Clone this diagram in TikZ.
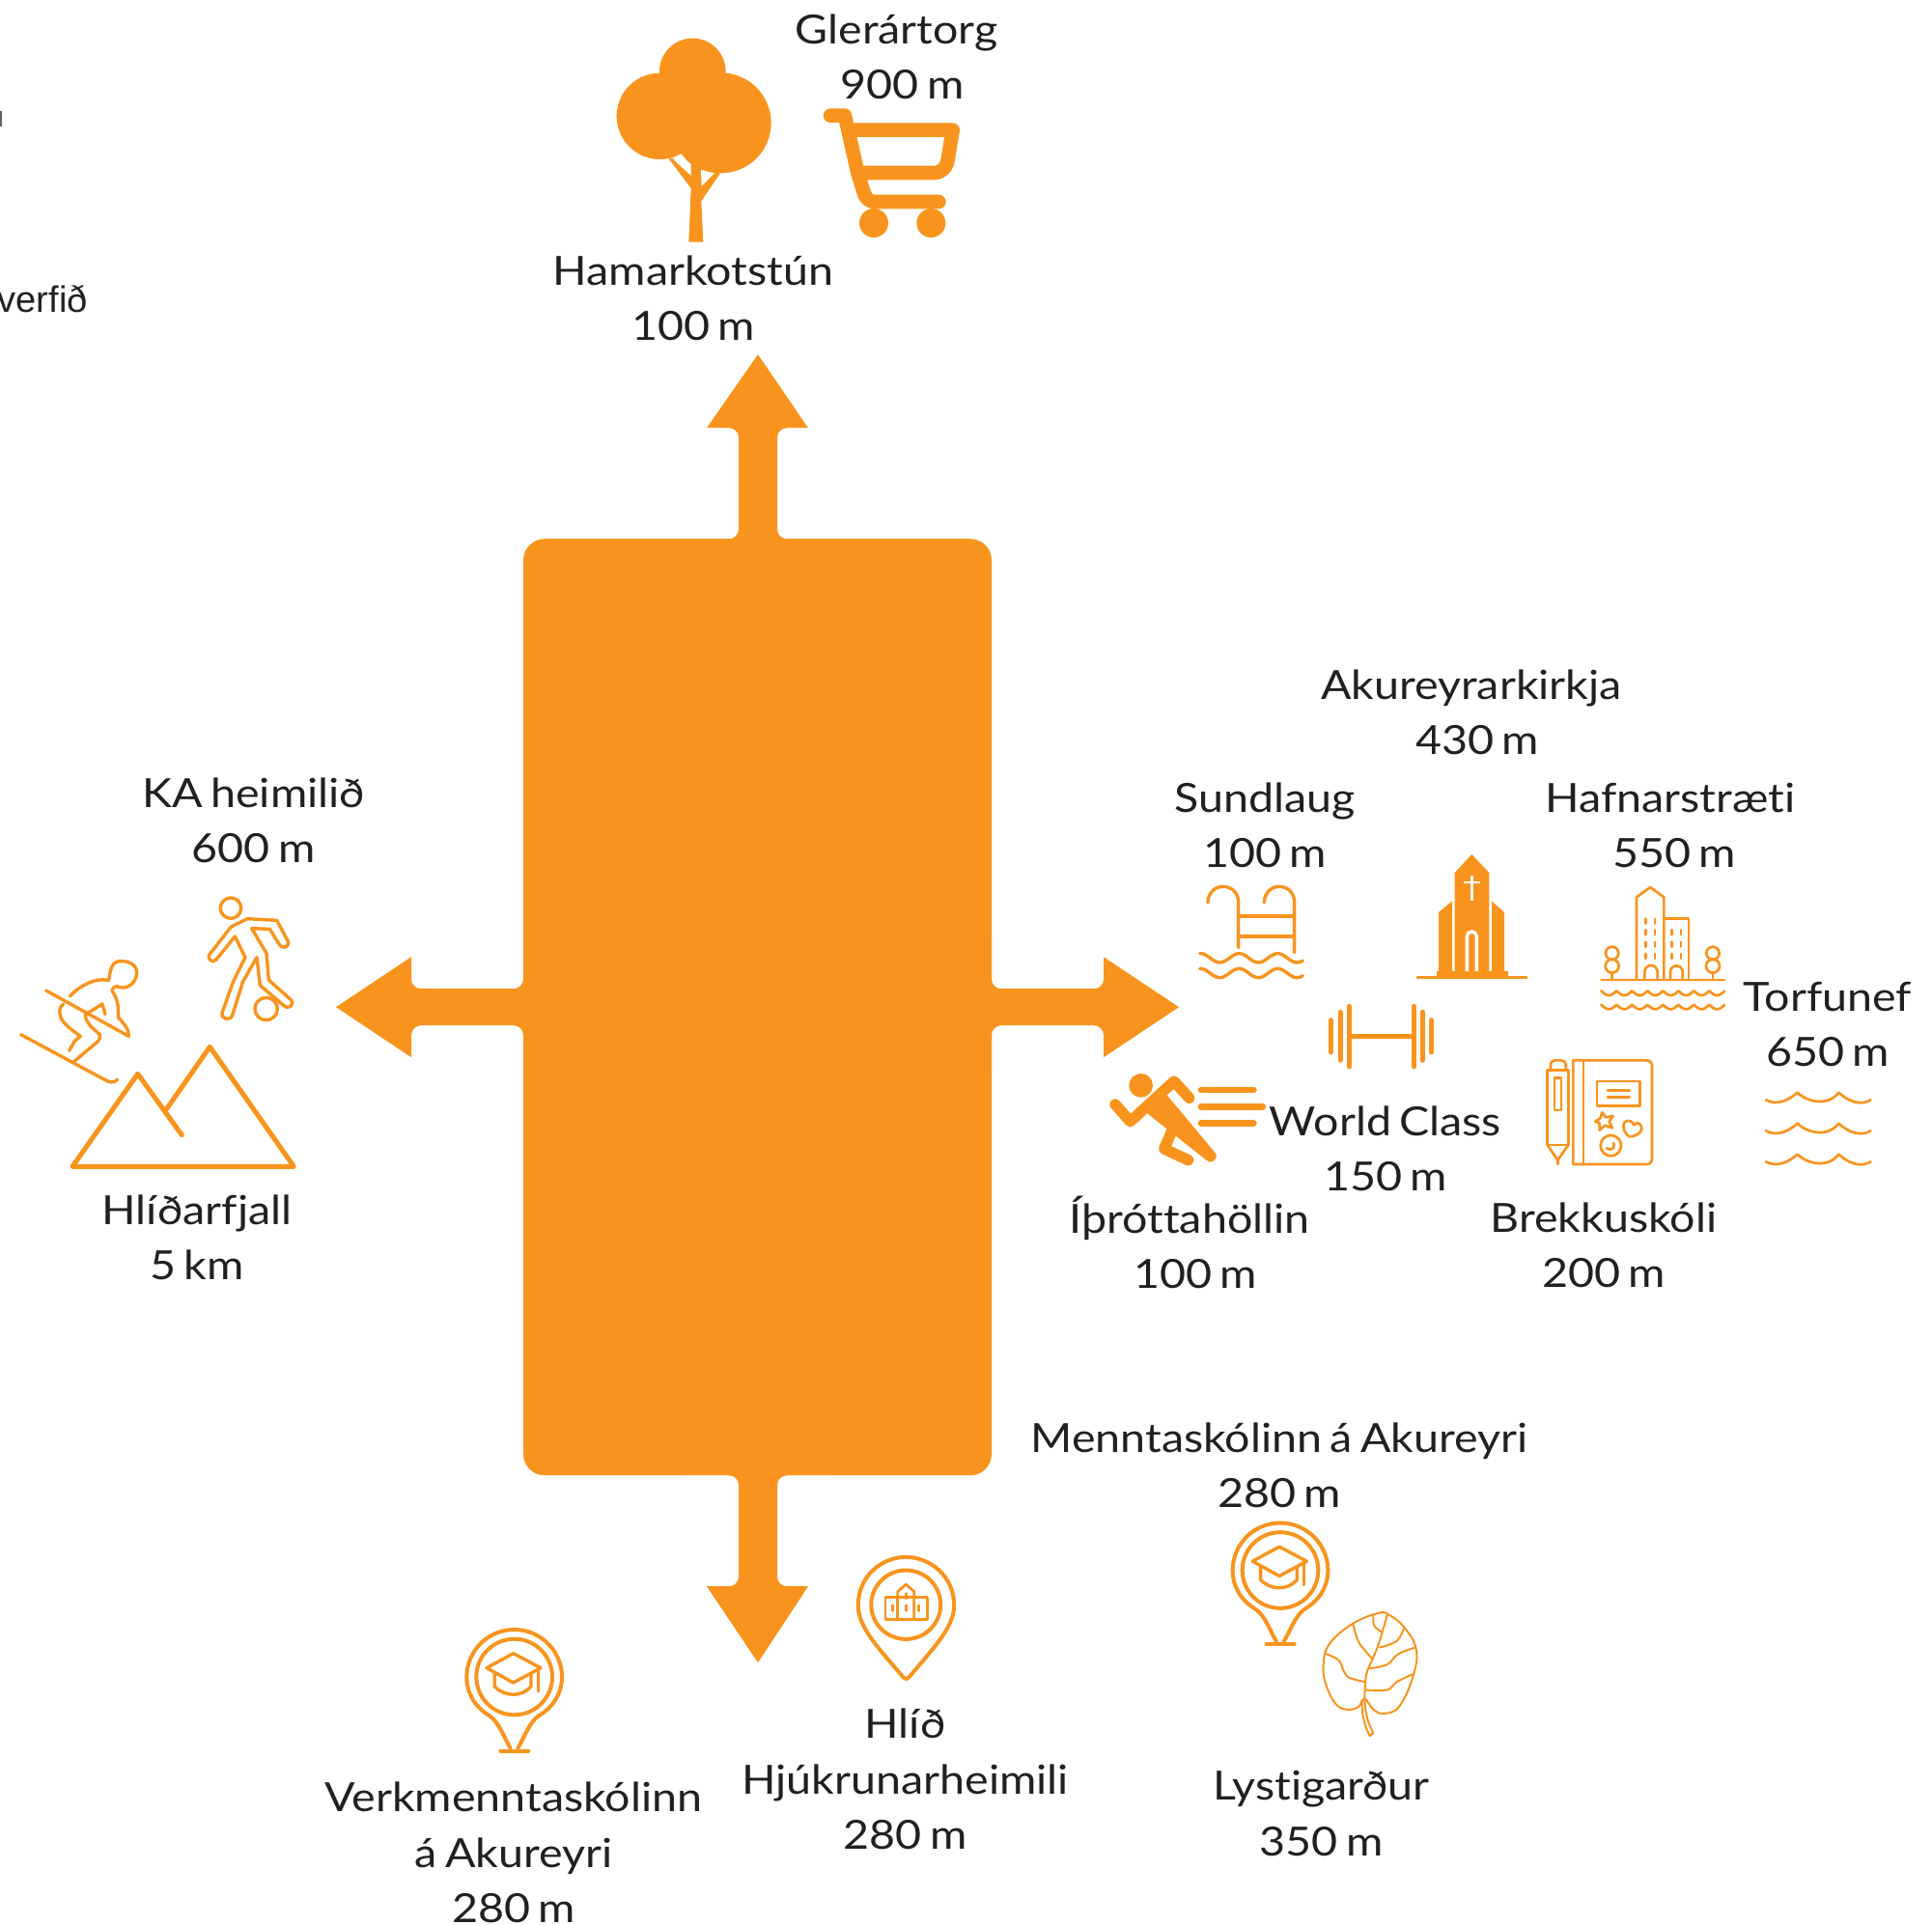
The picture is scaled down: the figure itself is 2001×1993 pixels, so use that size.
\documentclass[tikz,border=0pt]{standalone}
\usepackage{fontspec}
\setmainfont{Lato}[FakeStretch=1.12,Ligatures=NoCommon,WordSpace=0.7]
\newfontfamily\tinyfont{Liberation Sans}
\definecolor{acc}{HTML}{F8941E}
\definecolor{ink}{HTML}{231F20}
\tikzset{
  lbl/.style={inner sep=0pt,align=center,text=ink,font=\fontsize{20.8}{28.6}\selectfont},
  thin icon/.style={draw=acc,line width=1.7pt,line cap=round,line join=round},
  fine icon/.style={draw=acc,line width=1.35pt,line cap=round,line join=round},
  leaf icon/.style={draw=acc,line width=1pt,line cap=round,line join=round},
  pin icon/.style={draw=acc,line width=2pt,line cap=round,line join=round},
  zoomed/.style={shift={(#1)},scale=0.33333},
}
\newcommand{\gradpin}{%
  \draw[pin icon] (185,385) .. controls (165,350) and (150,305) .. (120,285)
    .. controls (75,258) and (50,215) .. (50,165)
    .. controls (50,85) and (115,18) .. (198,18)
    .. controls (280,18) and (346,85) .. (346,165)
    .. controls (346,215) and (320,258) .. (275,285)
    .. controls (245,305) and (230,350) .. (210,385);
  \draw[pin icon] (155,395) -- (242,395);
  \draw[pin icon] (198,165) circle (118);
  \draw[thin icon] (112,137) -- (195,92) -- (280,137) -- (195,183) -- cycle;
  \draw[thin icon] (137,155) -- (137,195) .. controls (170,228) and (220,228) .. (250,195) -- (250,155);
  \draw[thin icon] (272,140) -- (272,210);
}
\begin{document}
\begin{tikzpicture}[x=0.5pt,y=-0.5pt]
\useasboundingbox (0,0) rectangle (2001,1993);
% central block with four arrows
\begin{scope}[shift={(0,1.2)}]
\fill[acc,rounded corners=11pt] (542,557) rectangle (1027,1527);
\fill[acc,rounded corners=5pt] (700,557) -- (700,600) -- (870,600) -- (870,557) -- (805,557) -- (805,442) -- (825,442) -- (785,420) -- (745,442) -- (765,442) -- (765,557) -- cycle;
\fill[acc] (732,442) -- (785,366) -- (837,442) -- cycle;
\fill[acc,rounded corners=5pt] (700,1527) -- (700,1480) -- (870,1480) -- (870,1527) -- (805,1527) -- (805,1642) -- (825,1642) -- (785,1665) -- (745,1642) -- (765,1642) -- (765,1527) -- cycle;
\fill[acc] (732,1642) -- (785,1721) -- (837,1642) -- cycle;
\fill[acc,rounded corners=5pt] (542,960) -- (590,960) -- (590,1120) -- (542,1120) -- (542,1061) -- (426,1061) -- (426,1080) -- (400,1042) -- (426,1005) -- (426,1023) -- (542,1023) -- cycle;
\fill[acc] (426,990) -- (348,1042) -- (426,1094) -- cycle;
\fill[acc,rounded corners=5pt] (1027,960) -- (980,960) -- (980,1120) -- (1027,1120) -- (1027,1061) -- (1143,1061) -- (1143,1080) -- (1170,1042) -- (1143,1005) -- (1143,1023) -- (1027,1023) -- cycle;
\fill[acc] (1143,990) -- (1221,1042) -- (1143,1094) -- cycle;
\end{scope}
% labels
\node[lbl] (glerartorg) at (928.6,58.7) {Glerártorg\\\hspace*{6pt}900 m};
\node[lbl] (hamarkot) at (718,308.7) {Hamarkotstún\\100 m};
\node[lbl] (ka) at (262.8,849.5) {KA heimilið\\600 m};
\node[lbl] (hlidarfjall) at (204,1282) {Hlíðarfjall\\5 km};
\node[lbl] (kirkja) at (1524,738) {Akureyrarkirkja\\\hspace*{6pt}430 m};
\node[lbl] (sundlaug) at (1310,854.6) {Sundlaug\\100 m};
\node[lbl] (hafnarstraeti) at (1730,854.6) {Hafnarstræti\\\hspace*{4pt}550 m};
\node[lbl] (torfunef) at (1893,1061) {Torfunef\\650 m};
\node[lbl] (worldclass) at (1435,1190) {World Class\\150 m};
\node[lbl] (ithrott) at (1232,1286.5) {Íþróttahöllin\\\hspace*{6pt}100 m};
\node[lbl] (brekka) at (1661,1289.5) {Brekkuskóli\\200 m};
\node[lbl] (mennta) at (1325,1517.6) {Menntaskólinn á Akureyri\\280 m};
\node[lbl] (hlid) at (937.5,1843) {Hlíð\\Hjúkrunarheimili\\280 m};
\node[lbl] (verk) at (532,1919) {Verkmenntaskólinn\\á Akureyri\\280 m};
\node[lbl] (lysti) at (1368.6,1878.5) {Lystigarður\\350 m};
\node[inner sep=0pt,anchor=base east,text=ink,font=\tinyfont\fontsize{19}{22}\selectfont] (hverfid) at (91,323) {hverfið};
\fill[ink!70] (0,115) rectangle (1.5,131);
% tree and cart
\begin{scope}[zoomed={560,0}]
  \fill[acc] (460,752) -- (467,585) -- (397,492) -- (560,500) -- (558,538) -- (499,625) -- (505,752) -- cycle;
  \fill[white] (412,495) -- (436,484) -- (467,510) -- (467,546) -- cycle;
  \fill[white] (498,527) -- (540,538) -- (500,578) -- cycle;
  \fill[acc] (472,222) circle (103);
  \fill[acc] (370,361) circle (134);
  \fill[acc] (560,382) circle (156);
  \draw[acc,line width=7.3pt,line cap=round,line join=round]
    (900,359) -- (945,359) -- (985,537) -- (1003,595) .. controls (1010,618) and (1020,627) .. (1040,627) -- (1237,627);
  \draw[acc,line width=7.3pt,line cap=round,line join=round]
    (955,404) -- (1280,404) -- (1265,497) .. controls (1260,522) and (1245,537) .. (1222,537) -- (985,537);
  \fill[acc] (1035,693) circle (45);
  \fill[acc] (1213,693) circle (45);
\end{scope}
% mountain, skier, football player
\begin{scope}[zoomed={0,900}]
  \draw[acc,line width=2.5pt,line cap=round,line join=round]
    (565,827) -- (428,637) -- (225,925) -- (913,925) -- (652,553) -- (515,750);
  \draw[thin icon] (65,515) -- (325,655) .. controls (340,665) and (355,665) .. (365,655);
  \draw[thin icon] (143,378) -- (400,520) .. controls (402,500) and (385,480) .. (368,462) .. controls (368,420) and (365,405) .. (348,378)
     .. controls (352,365) and (362,362) .. (372,368) .. controls (400,375) and (425,350) .. (425,322) .. controls (425,295) and (395,285) .. (370,287) .. controls (345,290) and (342,320) .. (338,345);
  \draw[thin icon] (218,395) .. controls (245,365) and (300,335) .. (338,347);
  \draw[thin icon] (270,450) -- (318,420) -- (327,452);
  \draw[thin icon] (197,420) .. controls (180,430) and (185,450) .. (190,465) .. controls (205,490) and (230,505) .. (250,520) -- (232,535) -- (215,565);
  \draw[thin icon] (265,452) .. controls (265,480) and (290,495) .. (310,515) .. controls (315,530) and (300,540) .. (290,548) -- (232,597);
  \draw[thin icon] (717,122) circle (32);
  \draw[thin icon] (730,210) -- (672,282) .. controls (662,295) and (640,280) .. (652,265) -- (718,180) -- (768,155) -- (860,160) -- (895,225) .. controls (900,245) and (875,250) .. (868,235) -- (838,187) -- (782,185) -- (828,262) -- (835,345) -- (905,408) .. controls (915,425) and (895,438) .. (882,425) -- (808,362) -- (798,275) -- (755,350) -- (722,455) .. controls (715,475) and (685,465) .. (690,448) -- (725,350) -- (762,275) -- cycle;
  \draw[thin icon] (827,435) circle (35);
\end{scope}
% swimming pool, church, dumbbell
\begin{scope}[zoomed={1220,880}]
  \draw[thin icon] (93,165) .. controls (93,135) and (115,115) .. (140,115) .. controls (168,115) and (188,135) .. (188,165) -- (188,305);
  \draw[thin icon] (268,165) .. controls (268,135) and (290,115) .. (315,115) .. controls (342,115) and (362,135) .. (362,165) -- (362,320);
  \draw[thin icon] (188,207) -- (362,207);
  \draw[thin icon] (188,270) -- (362,270);
  \draw[thin icon] plot[domain=68:388,samples=70] (\x,{337+14*cos((\x-130)*3)});
  \draw[thin icon] plot[domain=68:388,samples=70] (\x,{384+14*cos((\x-130)*3)});
  \fill[acc] (860,72) -- (913,15) -- (967,72) -- (967,380) -- (860,380) -- cycle;
  \fill[acc] (810,195) -- (852,160) -- (852,380) -- (810,380) -- cycle;
  \fill[acc] (975,160) -- (1014,195) -- (1014,380) -- (975,380) -- cycle;
  \fill[acc] (803,378) rectangle (1025,394);
  \draw[acc,line width=1.5pt,line cap=round] (744,396) -- (1083,396);
  \fill[white] (909,82) rectangle (917,158);
  \fill[white] (888,98) rectangle (938,106);
  \draw[white,line width=1.7pt] (898,378) -- (898,270) arc[start angle=180,delta angle=180,radius=15] -- (928,378);
  \foreach \xx/\yy/\zz in {475/530/630,504/505/655,532/487/675,732/487/675,760/505/655,788/530/630}
    \draw[acc,line width=2.5pt,line cap=round] (\xx,\yy) -- (\xx,\zz);
  \draw[acc,line width=2.4pt] (532,580) -- (732,580);
\end{scope}
% runner
\begin{scope}[zoomed={1140,1060}]
  \fill[acc] (125,193) circle (37);
  \draw[acc,line width=5.7pt,line cap=round,line join=round] (45,252) -- (92,305) -- (228,180) -- (275,232);
  \fill[acc] (145,280) -- (205,222) -- (358,405) .. controls (365,425) and (340,440) .. (328,425) -- cycle;
  \draw[acc,line width=5.7pt,line cap=round,line join=round] (232,310) -- (197,390) -- (272,425);
  \draw[acc,line width=3.4pt,line cap=round] (312,207) -- (475,207);
  \draw[acc,line width=3.4pt,line cap=round] (312,259) -- (503,259);
  \draw[acc,line width=3.4pt,line cap=round] (312,311) -- (475,311);
\end{scope}
% buildings by the water, notebook, waves
\begin{scope}[zoomed={1600,900}]
  \draw[fine icon] (285,345) -- (285,88) -- (328,57) -- (370,88) -- (370,345);
  \draw[fine icon] (370,155) -- (447,155) -- (447,345);
  \draw[fine icon] (175,345) -- (558,345);
  \draw[fine icon] (310,345) -- (310,320) arc[start angle=180,delta angle=180,radius=20] -- (350,345);
  \draw[fine icon] (390,345) -- (390,320) arc[start angle=180,delta angle=180,radius=19] -- (428,345);
  \foreach \yy in {155,190,227,264} {
    \draw[fine icon] (313,\yy) -- (313,\yy+15);
    \draw[fine icon] (342,\yy) -- (342,\yy+15);
  }
  \foreach \yy in {190,227,264} {
    \draw[fine icon] (395,\yy) -- (395,\yy+15);
    \draw[fine icon] (423,\yy) -- (423,\yy+15);
  }
  \foreach \xx in {209,522} {
    \draw[fine icon] (\xx,262) circle (20);
    \draw[fine icon] (\xx,302) circle (21);
    \draw[fine icon] (\xx,323) -- (\xx,345);
  }
  \draw[fine icon] plot[domain=175:558,samples=160] (\x,{379+14*abs(sin((\x-175)*3.75))});
  \draw[fine icon] plot[domain=175:558,samples=160] (\x,{422+14*abs(sin((\x-175)*3.75))});
  % notebook
  \draw[fine icon] (88,595) -- (88,918) -- (315,918) .. controls (326,918) and (333,911) .. (333,900) -- (333,612) .. controls (333,601) and (326,595) .. (315,595) -- cycle;
  \draw[fine icon] (120,595) -- (120,918);
  \draw[fine icon] (162,660) rectangle (296,736);
  \draw[fine icon] (195,688) -- (263,688);
  \draw[fine icon] (195,710) -- (263,710);
  \draw[fine icon] (178,757) -- (189,772) -- (212,768) -- (200,785) -- (210,805) -- (187,797) -- (170,812) -- (170,790) -- (157,785) -- (172,775) -- cycle;
  \draw[fine icon] (262,832) .. controls (240,815) and (238,785) .. (258,783) .. controls (268,782) and (275,790) .. (277,796) .. controls (285,785) and (300,790) .. (301,805) .. controls (302,822) and (280,832) .. (262,832) -- cycle;
  \draw[fine icon] (205,860) circle (32);
  \draw[fine icon] (192,868) .. controls (205,878) and (220,868) .. (214,852);
  \draw[fine icon] (8,625) rectangle (73,858);
  \draw[fine icon] (18,625) -- (18,610) .. controls (18,600) and (25,595) .. (32,595) -- (50,595) .. controls (58,595) and (65,600) .. (65,610) -- (65,625);
  \draw[fine icon] (30,650) rectangle (51,750);
  \draw[fine icon] (8,858) -- (40,905) -- (73,858);
  \draw[fine icon] (40,905) -- (40,918);
  \foreach \yy in {3,99,195} {
    \draw[fine icon] (687,715+\yy) .. controls (720,733+\yy) and (755,718+\yy) .. (785,692+\yy) .. controls (815,722+\yy) and (880,736+\yy) .. (913,692+\yy) .. controls (945,722+\yy) and (985,733+\yy) .. (1012,715+\yy);
  }
\end{scope}
% Hlid pin
\begin{scope}[shift={(860,1561.2)},xscale=0.423,yscale=0.33333]
  \draw[pin icon] (178,528) .. controls (120,440) and (68,375) .. (68,305) .. controls (68,215) and (125,155) .. (185,155) .. controls (245,155) and (303,215) .. (303,305) .. controls (303,375) and (250,440) .. (193,528) .. controls (188,535) and (182,535) .. (178,528) -- cycle;
  \draw[pin icon] (185,303) ellipse (85 and 107);
  \draw[fine icon] (135,280) rectangle (237,348);
  \draw[fine icon] (165,280) -- (165,262) -- (185,240) -- (205,262) -- (205,345);
  \draw[fine icon] (165,280) -- (165,345);
  \draw[fine icon] (152,305) -- (152,322);
  \draw[fine icon] (185,305) -- (185,322);
  \draw[fine icon] (217,305) -- (217,322);
  \draw[fine icon] (185,268) -- (185,284);
\end{scope}
% school pins
\begin{scope}[zoomed={1260,1571.5}]
  \gradpin
  % leaf
  \draw[leaf icon] plot[smooth cycle,tension=0.7] coordinates {(460,565) (440,590) (405,598) (370,580) (340,520) (332,460) (350,395) (420,333) (500,299) (535,303) (585,345) (620,410) (612,490) (570,585) (525,610) (490,600)};
  \draw[leaf icon] plot[smooth,tension=0.6] coordinates {(460,565) (465,490) (485,440) (505,390) (530,305)};
  \draw[leaf icon] (452,570) .. controls (450,610) and (460,650) .. (476,680) -- (487,670) .. controls (470,640) and (462,610) .. (460,565);
  \draw[leaf icon] plot[smooth,tension=0.6] coordinates {(340,425) (380,445) (397,482) (415,500) (462,512)};
  \draw[leaf icon] plot[smooth,tension=0.6] coordinates {(424,333) (440,385) (462,415) (485,442)};
  \draw[leaf icon] plot[smooth,tension=0.6] coordinates {(487,305) (490,338) (515,358)};
  \draw[leaf icon] plot[smooth,tension=0.6] coordinates {(507,405) (560,385) (582,345)};
  \draw[leaf icon] plot[smooth,tension=0.6] coordinates {(475,470) (530,458) (565,425) (618,405)};
  \draw[leaf icon] plot[smooth,tension=0.6] coordinates {(465,537) (530,537) (560,512) (612,487)};
\end{scope}
\begin{scope}[zoomed={466.67,1682}]
  \gradpin
\end{scope}
\end{tikzpicture}
\end{document}
